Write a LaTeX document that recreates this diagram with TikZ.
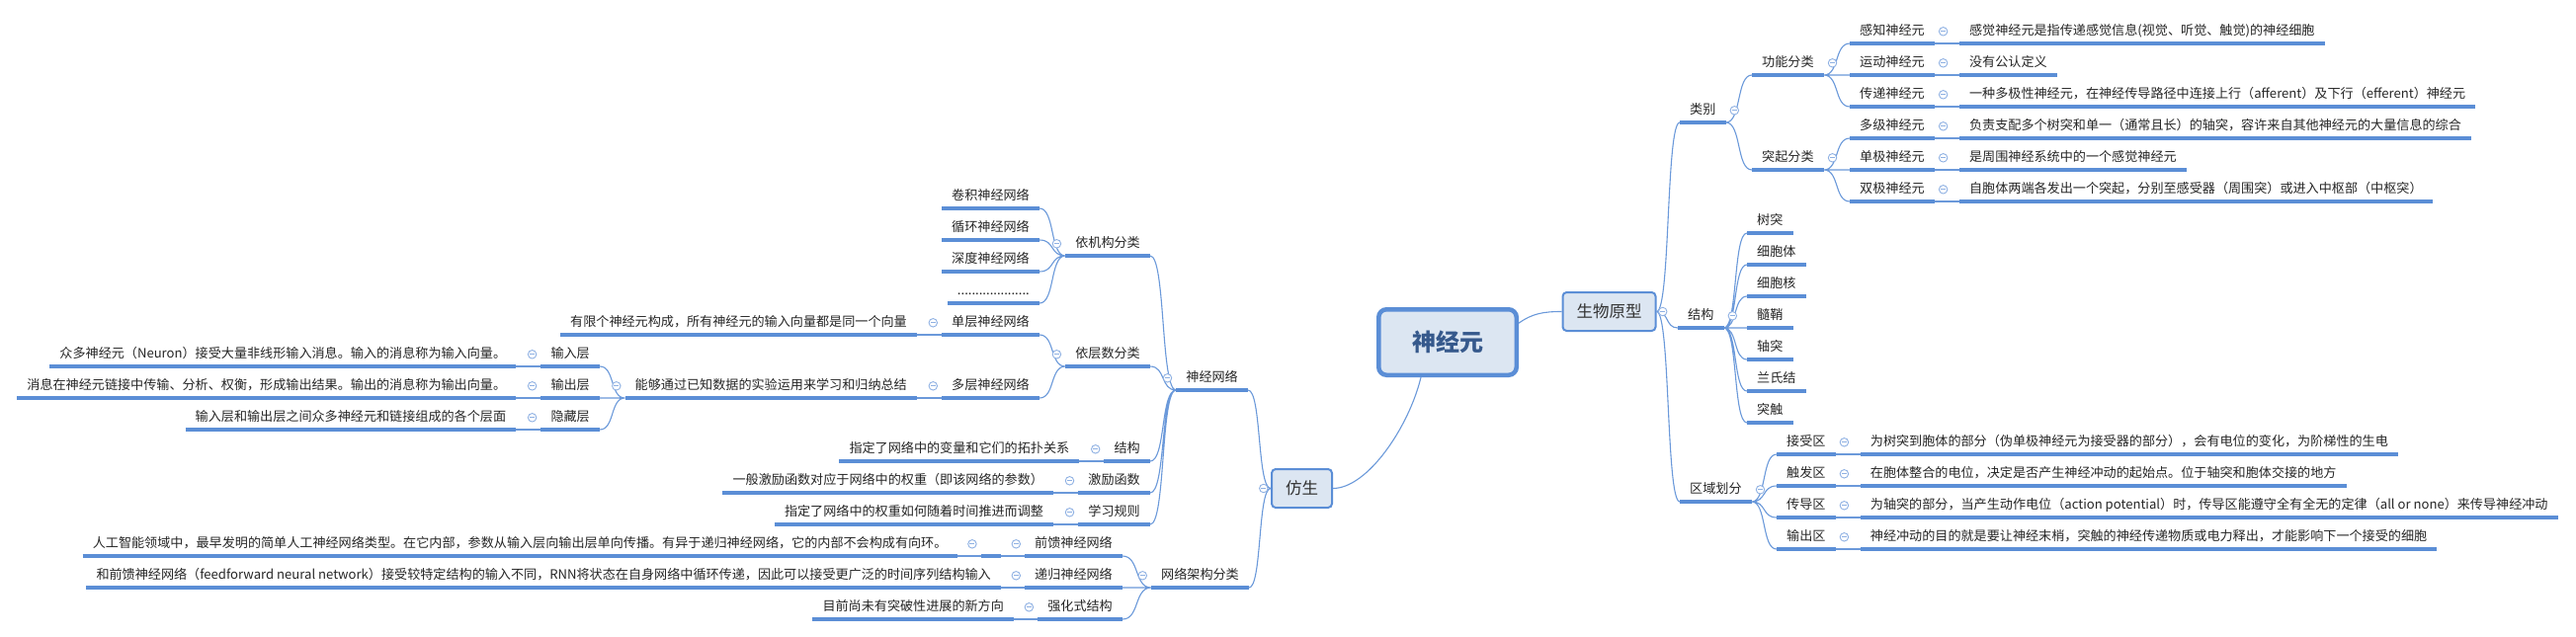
\documentclass[tikz,border=0pt]{standalone}
\usepackage{fontspec}
\setmainfont{Noto Sans CJK SC}
\usetikzlibrary{positioning,calc}
\definecolor{mapblue}{HTML}{5B8ED6}
\definecolor{mapfill}{HTML}{DCE6F2}
\definecolor{roottext}{HTML}{36598C}
\definecolor{foldblue}{HTML}{8FB1E3}
\newcommand\foldR[1]{\node[fold,right=4pt of #1] (#1-f) {};}
\newcommand\foldL[1]{\node[fold,left=4pt of #1] (#1-f) {};}

\begin{document}
\begin{tikzpicture}[x=1pt,y=-1pt,font=\fontsize{13.1}{15}\selectfont,text=black!85,
topic/.style={inner xsep=10pt,inner ysep=5pt,text height=11pt,text depth=3pt,
  append after command={\pgfextra{\let\topicnode\tikzlastnode}
    (\topicnode.south west) edge[uline] (\topicnode.south east)}},
uline/.style={draw=mapblue,line width=4pt},
link/.style={draw=mapblue!90,line width=1.1pt},
root/.style={draw=mapblue,line width=4.5pt,fill=mapfill,rounded corners=8pt,
  minimum width=139.5pt,minimum height=66.5pt,text=roottext,font=\fontsize{24}{28}\selectfont\bfseries},
box/.style={draw=mapblue,line width=2pt,fill=mapfill,rounded corners=4pt,
  minimum height=39pt,inner xsep=14pt,text=black!80,font=\fontsize{16.5}{20}\selectfont},
fold/.style={circle,draw=foldblue,fill=white,line width=0.9pt,minimum size=8.5pt,inner sep=0pt,
  path picture={\draw[foldblue,line width=0.9pt] ([xshift=-2.5pt]path picture bounding box.center)
    -- ([xshift=2.5pt]path picture bounding box.center);}},
branch/.style={to path={(\tikztostart) .. controls ($(\tikztostart)!.6!(\tikztotarget |- \tikztostart)$)
  and ($(\tikztostart |- \tikztotarget)!.4!(\tikztotarget)$) .. (\tikztotarget)}}]

\useasboundingbox (0,0) rectangle (2607,645);
\fill[white] (0,0) rectangle (2607,645);

\node[root] (root) at (1465,346.5) {神经元};
\node[box] (swyx) at (1628.5,315.5) {生物原型};
\node[box] (fs) at (1317.5,494.5) {仿生};

% 生物原型
\node[topic,anchor=south west] (lb) at (1700,124) {类别};
\node[topic,anchor=south west] (gn) at (1773,76) {功能分类};
\node[topic,anchor=south west] (tq) at (1773,172) {突起分类};
\node[topic,anchor=south west] (gz) at (1872,44) {感知神经元};
\node[topic,right=25pt of gz] (gz-d) {感觉神经元是指传递感觉信息(视觉、听觉、触觉)的神经细胞};
\node[topic,anchor=south west] (yd) at (1872,76) {运动神经元};
\node[topic,right=25pt of yd] (yd-d) {没有公认定义};
\node[topic,anchor=south west] (cd) at (1872,108) {传递神经元};
\node[topic,right=25pt of cd] (cd-d) {一种多极性神经元，在神经传导路径中连接上行（afferent）及下行（efferent）神经元};
\node[topic,anchor=south west] (dj) at (1872,140) {多级神经元};
\node[topic,right=25pt of dj] (dj-d) {负责支配多个树突和单一（通常且长）的轴突，容许来自其他神经元的大量信息的综合};
\node[topic,anchor=south west] (danj) at (1872,172) {单极神经元};
\node[topic,right=25pt of danj] (danj-d) {是周围神经系统中的一个感觉神经元};
\node[topic,anchor=south west] (sj) at (1872,204) {双极神经元};
\node[topic,right=25pt of sj] (sj-d) {自胞体两端各发出一个突起，分别至感受器（周围突）或进入中枢部（中枢突）};

\node[topic,anchor=south west] (jg) at (1698,332) {结构};
\node[topic,anchor=south west] (st) at (1768,236) {树突};
\node[topic,anchor=south west] (xbt) at (1768,268) {细胞体};
\node[topic,anchor=south west] (xbh) at (1768,300) {细胞核};
\node[topic,anchor=south west] (sq) at (1768,332) {髓鞘};
\node[topic,anchor=south west] (zt) at (1768,364) {轴突};
\node[topic,anchor=south west] (lsj) at (1768,396) {兰氏结};
\node[topic,anchor=south west] (tc) at (1768,428) {突触};

\node[topic,anchor=south west] (qy) at (1700,508) {区域划分};
\node[topic,anchor=south west] (jsq) at (1798,460) {接受区};
\node[topic,right=25pt of jsq] (jsq-d) {为树突到胞体的部分（伪单极神经元为接受器的部分），会有电位的变化，为阶梯性的生电};
\node[topic,anchor=south west] (cfq) at (1798,492) {触发区};
\node[topic,right=25pt of cfq] (cfq-d) {在胞体整合的电位，决定是否产生神经冲动的起始点。位于轴突和胞体交接的地方};
\node[topic,anchor=south west] (cdq) at (1798,524) {传导区};
\node[topic,right=25pt of cdq] (cdq-d) {为轴突的部分，当产生动作电位（action potential）时，传导区能遵守全有全无的定律（all or none）来传导神经冲动};
\node[topic,anchor=south west] (scq) at (1798,556) {输出区};
\node[topic,right=25pt of scq] (scq-d) {神经冲动的目的就是要让神经末梢，突触的神经传递物质或电力释出，才能影响下一个接受的细胞};

% 仿生
\node[topic,anchor=south east] (sjwl) at (1263,395) {神经网络};
\node[topic,anchor=south east] (jgfl) at (1164,259) {依机构分类};
\node[topic,anchor=south east] (jj) at (1052,211) {卷积神经网络};
\node[topic,anchor=south east] (xh) at (1052,243) {循环神经网络};
\node[topic,anchor=south east] (sd) at (1052,275) {深度神经网络};
\node[topic,anchor=south east] (etc) at (1052,307) {....................};
\node[topic,anchor=south east] (csfl) at (1164,371) {依层数分类};
\node[topic,anchor=south east] (dc) at (1052,339) {单层神经网络};
\node[topic,left=25pt of dc] (dc-d) {有限个神经元构成，所有神经元的输入向量都是同一个向量};
\node[topic,anchor=south east] (dcw) at (1052,403) {多层神经网络};
\node[topic,left=25pt of dcw] (dcw-d) {能够通过已知数据的实验运用来学习和归纳总结};
\node[topic,anchor=south east] (sr) at (607,371) {输入层};
\node[topic,left=25pt of sr] (sr-d) {众多神经元（Neuron）接受大量非线形输入消息。输入的消息称为输入向量。};
\node[topic,anchor=south east] (sc) at (607,403) {输出层};
\node[topic,left=25pt of sc] (sc-d) {消息在神经元链接中传输、分析、权衡，形成输出结果。输出的消息称为输出向量。};
\node[topic,anchor=south east] (yc) at (607,435) {隐藏层};
\node[topic,left=25pt of yc] (yc-d) {输入层和输出层之间众多神经元和链接组成的各个层面};
\node[topic,anchor=south east] (jg2) at (1164,467) {结构};
\node[topic,left=25pt of jg2] (jg2-d) {指定了网络中的变量和它们的拓扑关系};
\node[topic,anchor=south east] (jl) at (1164,499) {激励函数};
\node[topic,left=25pt of jl] (jl-d) {一般激励函数对应于网络中的权重（即该网络的参数）};
\node[topic,anchor=south east] (xx) at (1164,531) {学习规则};
\node[topic,left=25pt of xx] (xx-d) {指定了网络中的权重如何随着时间推进而调整};

\node[topic,anchor=south east] (wljg) at (1264,595) {网络架构分类};
\node[topic,anchor=south east] (qk) at (1136,563) {前馈神经网络};
\node[topic,left=24pt of qk] (qk-e) {};
\node[topic,left=24pt of qk-e] (qk-d) {人工智能领域中，最早发明的简单人工神经网络类型。在它内部，参数从输入层向输出层单向传播。有异于递归神经网络，它的内部不会构成有向环。};
\node[topic,anchor=south east] (dg) at (1136,595) {递归神经网络};
\node[topic,left=24pt of dg] (dg-d) {和前馈神经网络（feedforward neural network）接受较特定结构的输入不同，RNN将状态在自身网络中循环传递，因此可以接受更广泛的时间序列结构输入};
\node[topic,anchor=south east] (qh) at (1136,627) {强化式结构};
\node[topic,left=24pt of qh] (qh-d) {目前尚未有突破性进展的新方向};

\draw[link] (root.15) .. controls +(14,-10) and +(-18,0) .. (swyx.west);
\draw[link] ([xshift=-27pt]root.south) .. controls +(-12,50) and +(35,0) .. (fs.east);

\draw[link] (swyx.east) to[branch] (lb.south west) (swyx.east) to[branch] (jg.south west)
  (swyx.east) to[branch] (qy.south west);
\draw[link] (lb.south east) to[branch] (gn.south west) (lb.south east) to[branch] (tq.south west);
\draw[link] (gn.south east) to[branch] (gz.south west) (gn.south east) to[branch] (yd.south west)
  (gn.south east) to[branch] (cd.south west);
\draw[link] (tq.south east) to[branch] (dj.south west) (tq.south east) to[branch] (danj.south west)
  (tq.south east) to[branch] (sj.south west);
\draw[link] (gz.south east) -- (gz-d.south west) (yd.south east) -- (yd-d.south west)
  (cd.south east) -- (cd-d.south west) (dj.south east) -- (dj-d.south west)
  (danj.south east) -- (danj-d.south west) (sj.south east) -- (sj-d.south west);
\draw[link] (jg.south east) to[branch] (st.south west) (jg.south east) to[branch] (xbt.south west)
  (jg.south east) to[branch] (xbh.south west) (jg.south east) to[branch] (sq.south west)
  (jg.south east) to[branch] (zt.south west) (jg.south east) to[branch] (lsj.south west)
  (jg.south east) to[branch] (tc.south west);
\draw[link] (qy.south east) to[branch] (jsq.south west) (qy.south east) to[branch] (cfq.south west)
  (qy.south east) to[branch] (cdq.south west) (qy.south east) to[branch] (scq.south west);
\draw[link] (jsq.south east) -- (jsq-d.south west) (cfq.south east) -- (cfq-d.south west)
  (cdq.south east) -- (cdq-d.south west) (scq.south east) -- (scq-d.south west);

\draw[link] (fs.west) to[branch] (sjwl.south east) (fs.west) to[branch] (wljg.south east);
\draw[link] (sjwl.south west) to[branch] (jgfl.south east) (sjwl.south west) to[branch] (csfl.south east)
  (sjwl.south west) to[branch] (jg2.south east) (sjwl.south west) to[branch] (jl.south east)
  (sjwl.south west) to[branch] (xx.south east);
\draw[link] (jgfl.south west) to[branch] (jj.south east) (jgfl.south west) to[branch] (xh.south east)
  (jgfl.south west) to[branch] (sd.south east) (jgfl.south west) to[branch] (etc.south east);
\draw[link] (csfl.south west) to[branch] (dc.south east) (csfl.south west) to[branch] (dcw.south east);
\draw[link] (dc.south west) -- (dc-d.south east) (dcw.south west) -- (dcw-d.south east);
\draw[link] (dcw-d.south west) to[branch] (sr.south east) (dcw-d.south west) to[branch] (sc.south east)
  (dcw-d.south west) to[branch] (yc.south east);
\draw[link] (sr.south west) -- (sr-d.south east) (sc.south west) -- (sc-d.south east)
  (yc.south west) -- (yc-d.south east);
\draw[link] (jg2.south west) -- (jg2-d.south east) (jl.south west) -- (jl-d.south east)
  (xx.south west) -- (xx-d.south east);
\draw[link] (wljg.south west) to[branch] (qk.south east) (wljg.south west) to[branch] (dg.south east)
  (wljg.south west) to[branch] (qh.south east);
\draw[link] (qk.south west) -- (qk-e.south east) (qk-e.south west) -- (qk-d.south east)
  (dg.south west) -- (dg-d.south east) (qh.south west) -- (qh-d.south east);

\node[fold,right=1.5pt of swyx] (swyx-f) {};
\node[fold,left=2.5pt of fs] (fs-f) {};
\foldR{lb} \foldR{gn} \foldR{tq} \foldR{gz} \foldR{yd} \foldR{cd} \foldR{dj} \foldR{danj} \foldR{sj}
\foldR{jg} \foldR{qy} \foldR{jsq} \foldR{cfq} \foldR{cdq} \foldR{scq}
\foldL{sjwl} \foldL{jgfl} \foldL{csfl} \foldL{dc} \foldL{dcw} \foldL{dcw-d} \foldL{sr} \foldL{sc} \foldL{yc}
\foldL{jg2} \foldL{jl} \foldL{xx} \foldL{wljg} \foldL{qk} \foldL{qk-e} \foldL{dg} \foldL{qh}
%
\end{tikzpicture}
\end{document}
